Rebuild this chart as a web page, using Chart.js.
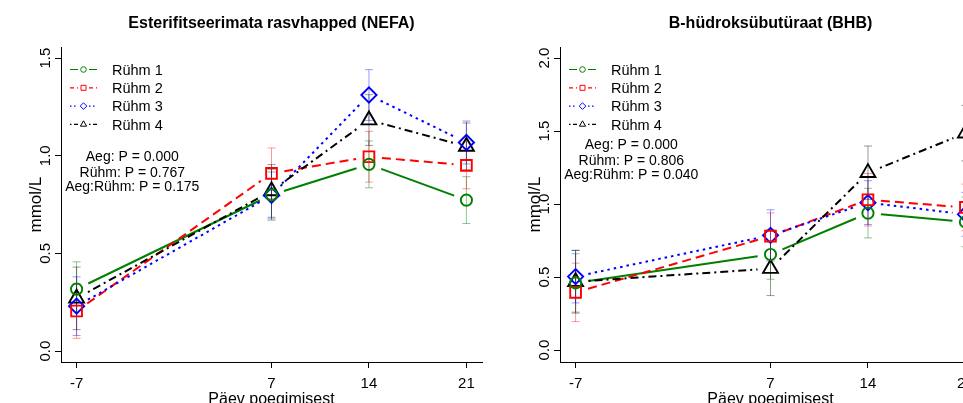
<!DOCTYPE html>
<html>
<head>
<meta charset="utf-8">
<script src="https://cdn.jsdelivr.net/npm/chart.js@4.4.0/dist/chart.umd.min.js"></script>
<style>
  html, body { margin: 0; padding: 0; background: #fff; overflow: hidden; width: 963px; height: 403px; }
  .panel { position: absolute; top: 0; width: 500px; height: 420px; }
  #left { left: 0; }
  #right { left: 499px; }
</style>
</head>
<body>
<div class="panel" id="left"><canvas id="nefaChart" width="500" height="420"></canvas></div>
<div class="panel" id="right"><canvas id="bhbChart" width="500" height="420"></canvas></div>
<script>
// shared
const days = [-7, 7, 14, 21];
const xTicks = [-7, 7, 14, 21];
const groupNames = ['Rühm 1', 'Rühm 2', 'Rühm 3', 'Rühm 4'];

// NEFA panel
const nefaR1 = [0.317, 0.80, 0.956, 0.773];
const nefaR2 = [0.205, 0.91, 0.995, 0.951];
const nefaR3 = [0.23, 0.797, 1.311, 1.068];
const nefaR4 = [0.27, 0.82, 1.183, 1.048];
const nefaErr1 = [0.14, 0.13, 0.12, 0.12];
const nefaErr2 = [0.14, 0.13, 0.13, 0.12];
const nefaErr3 = [0.15, 0.12, 0.13, 0.11];
const nefaErr4 = [0.16, 0.135, 0.13, 0.12];
const nefaYTicks = [0, 0.5, 1, 1.5];
const nefaStats = ['Aeg: P = 0.000', 'Rühm: P = 0.767', 'Aeg:Rühm: P = 0.175'];

// BHB panel
const bhbR1 = [0.46, 0.655, 0.938, 0.878];
const bhbR2 = [0.395, 0.78, 1.03, 0.977];
const bhbR3 = [0.503, 0.786, 1.01, 0.93];
const bhbR4 = [0.468, 0.558, 1.215, 1.486];
const bhbErr1 = [0.2, 0.17, 0.17, 0.17];
const bhbErr2 = [0.2, 0.16, 0.18, 0.16];
const bhbErr3 = [0.18, 0.175, 0.15, 0.15];
const bhbErr4 = [0.215, 0.185, 0.183, 0.19];
const bhbYTicks = [0, 0.5, 1, 1.5, 2];
const bhbStats = ['Aeg: P = 0.000', 'Rühm: P = 0.806', 'Aeg:Rühm: P = 0.040'];

const colors = ['#008000', '#ff0000', '#0000ff', '#000000'];
const errColors = ['rgba(0,128,0,0.45)', 'rgba(255,0,0,0.4)', 'rgba(0,0,255,0.4)', 'rgba(0,0,0,0.4)'];
const dashes = [[], [9, 5], [2.5, 4], [2, 4, 8, 4]];
const legendDashes = [[], [4, 3], [1.5, 2.5], [1.5, 2.5, 4, 2.5]];
const styles = ['circle', 'rect', 'rectRot', 'triangle'];
const radii = [5.6, 7.6, 7.6, 8.6];
const FONT = '"Liberation Sans", Arial, sans-serif';

function drawMarker(ctx, style, x, y, r) {
  ctx.beginPath();
  if (style === 'circle') {
    ctx.arc(x, y, r, 0, Math.PI * 2);
  } else if (style === 'rect') {
    ctx.rect(x - r, y - r, 2 * r, 2 * r);
  } else if (style === 'rectRot') {
    ctx.moveTo(x, y - r); ctx.lineTo(x + r, y); ctx.lineTo(x, y + r); ctx.lineTo(x - r, y); ctx.closePath();
  } else {
    ctx.moveTo(x, y - r); ctx.lineTo(x + r * 0.866, y + r / 2); ctx.lineTo(x - r * 0.866, y + r / 2); ctx.closePath();
  }
  ctx.stroke();
}

// error bars + connecting lines with gaps around the points (R type = "b")
const linesPlugin = {
  id: 'rLines',
  beforeDatasetsDraw(chart) {
    const ctx = chart.ctx;
    const xs = chart.scales.x, ys = chart.scales.y;
    const area = chart.chartArea;
    ctx.save();
    ctx.beginPath();
    ctx.rect(area.left, area.top, area.right - area.left, area.bottom - area.top);
    ctx.clip();
    chart.data.datasets.forEach((ds, i) => {
      ctx.strokeStyle = errColors[i];
      ctx.lineWidth = 1;
      ctx.setLineDash([]);
      ds.data.forEach((p, j) => {
        const x = xs.getPixelForValue(p.x);
        const lo = ys.getPixelForValue(p.y - ds.err[j]);
        const hi = ys.getPixelForValue(p.y + ds.err[j]);
        ctx.beginPath();
        ctx.moveTo(x, lo); ctx.lineTo(x, hi);
        ctx.moveTo(x - 4, lo); ctx.lineTo(x + 4, lo);
        ctx.moveTo(x - 4, hi); ctx.lineTo(x + 4, hi);
        ctx.stroke();
      });
    });
    const gap = 13;
    chart.data.datasets.forEach((ds, i) => {
      ctx.strokeStyle = colors[i];
      ctx.lineWidth = 2;
      ctx.setLineDash(dashes[i]);
      for (let j = 0; j < ds.data.length - 1; j++) {
        const x0 = xs.getPixelForValue(ds.data[j].x), y0 = ys.getPixelForValue(ds.data[j].y);
        const x1 = xs.getPixelForValue(ds.data[j + 1].x), y1 = ys.getPixelForValue(ds.data[j + 1].y);
        const len = Math.hypot(x1 - x0, y1 - y0);
        if (len <= 2 * gap) continue;
        const ux = (x1 - x0) / len, uy = (y1 - y0) / len;
        ctx.beginPath();
        ctx.moveTo(x0 + ux * gap, y0 + uy * gap);
        ctx.lineTo(x1 - ux * gap, y1 - uy * gap);
        ctx.stroke();
      }
    });
    ctx.restore();
  }
};

// vertical y tick labels, legend and the P-value text
const extrasPlugin = {
  id: 'rExtras',
  afterDraw(chart, args, opts) {
    const ctx = chart.ctx;
    const xs = chart.scales.x, ys = chart.scales.y;
    const area = chart.chartArea;
    ctx.save();
    ctx.fillStyle = '#000';
    ctx.font = '15px ' + FONT;
    ctx.textAlign = 'center';
    ctx.textBaseline = 'middle';
    ys.ticks.forEach(t => {
      ctx.save();
      ctx.translate(area.left - 15, ys.getPixelForValue(t.value));
      ctx.rotate(-Math.PI / 2);
      ctx.fillText(t.value.toFixed(1), 0, 0);
      ctx.restore();
    });

    // legend
    ctx.textAlign = 'left';
    ctx.textBaseline = 'alphabetic';
    ctx.font = '14.5px ' + FONT;
    groupNames.forEach((name, i) => {
      const y = area.top + 22.3 + i * 18.3;
      const x0 = area.left + 9;
      ctx.strokeStyle = colors[i];
      ctx.lineWidth = 1.2;
      ctx.setLineDash(legendDashes[i]);
      ctx.beginPath();
      ctx.moveTo(x0, y); ctx.lineTo(x0 + 8, y);
      ctx.moveTo(x0 + 19, y); ctx.lineTo(x0 + 27, y);
      ctx.stroke();
      ctx.setLineDash([]);
      ctx.lineWidth = 1;
      drawMarker(ctx, styles[i], x0 + 13.5, y, [2.8, 2.5, 3.3, 3.6][i]);
      ctx.fillText(name, area.left + 51, y + 5.2);
    });

    // statistics text
    ctx.textAlign = 'center';
    ctx.font = '14px ' + FONT;
    const cx = xs.getPixelForValue(opts.textX);
    const cy = ys.getPixelForValue(opts.textY);
    [0, 16, 30.5].forEach((off, k) => {
      ctx.fillText(opts.lines[k], cx, cy + off);
    });
    ctx.restore();
  }
};

function makeChart(id, title, series, errs, yMin, yMax, yTicks, stats, textY) {
  const datasets = series.map((vals, i) => ({
    label: groupNames[i],
    data: days.map((d, j) => ({ x: d, y: vals[j] })),
    err: errs[i],
    showLine: false,
    pointStyle: styles[i],
    pointRadius: radii[i],
    pointHoverRadius: radii[i],
    pointBorderWidth: 1.9,
    pointBorderColor: colors[i],
    pointBackgroundColor: 'rgba(0,0,0,0)',
    borderColor: colors[i]
  }));
  return new Chart(document.getElementById(id).getContext('2d'), {
    type: 'scatter',
    data: { datasets: datasets },
    plugins: [linesPlugin, extrasPlugin],
    options: {
      responsive: false,
      animation: false,
      devicePixelRatio: 1,
      layout: { padding: { left: 0, right: 18, top: 0, bottom: 0 } },
      scales: {
        x: {
          type: 'linear',
          min: -8.12,
          max: 22.12,
          afterBuildTicks: s => { s.ticks = xTicks.map(v => ({ value: v })); },
          afterFit: s => { s.height = 58; },
          grid: { display: true, drawOnChartArea: false, drawTicks: true, tickLength: 6, tickColor: '#000', tickWidth: 1 },
          border: { display: true, color: '#000', width: 1 },
          ticks: { color: '#000', font: { family: FONT, size: 15 }, padding: 7, maxRotation: 0, autoSkip: false },
          title: { display: true, text: 'Päev poegimisest', color: '#000', font: { family: FONT, size: 16 }, padding: { top: 0, bottom: 11 } }
        },
        y: {
          min: yMin,
          max: yMax,
          afterBuildTicks: s => { s.ticks = yTicks.map(v => ({ value: v })); },
          afterFit: s => { s.width = 61; },
          grid: { display: true, drawOnChartArea: false, drawTicks: true, tickLength: 6, tickColor: '#000', tickWidth: 1 },
          border: { display: true, color: '#000', width: 1 },
          ticks: { display: false },
          title: { display: true, text: 'mmol/L', color: '#000', font: { family: FONT, size: 17 }, padding: { top: 26, bottom: 0 } }
        }
      },
      plugins: {
        legend: { display: false },
        tooltip: { enabled: false },
        title: {
          display: true,
          text: title,
          fullSize: false,
          color: '#000',
          font: { family: FONT, size: 16, weight: 'bold' },
          padding: { top: 14, bottom: 14 }
        },
        rExtras: { lines: stats, textX: -3, textY: textY }
      }
    }
  });
}

makeChart('nefaChart', 'Esterifitseerimata rasvhapped (NEFA)',
  [nefaR1, nefaR2, nefaR3, nefaR4], [nefaErr1, nefaErr2, nefaErr3, nefaErr4],
  -0.056, 1.556, nefaYTicks, nefaStats, 0.975);
makeChart('bhbChart', 'B-hüdroksübutüraat (BHB)',
  [bhbR1, bhbR2, bhbR3, bhbR4], [bhbErr1, bhbErr2, bhbErr3, bhbErr4],
  -0.082, 2.075, bhbYTicks, bhbStats, 1.38);
</script>
</body>
</html>
